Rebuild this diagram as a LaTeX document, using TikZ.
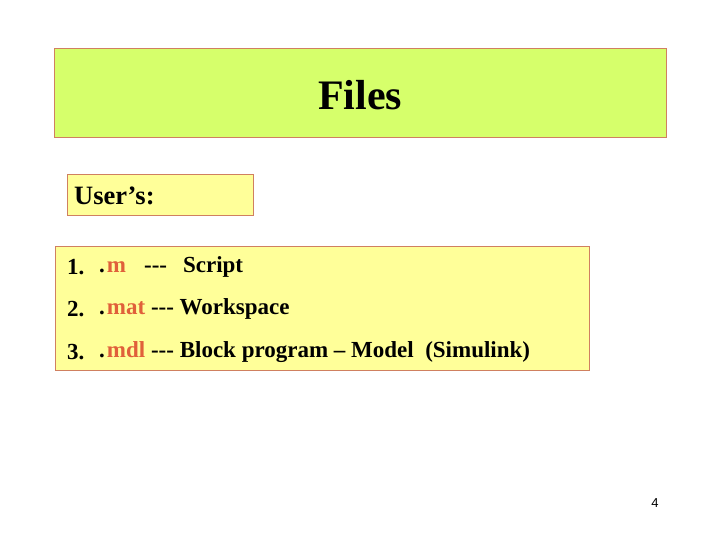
\documentclass[tikz,border=0pt]{standalone}
\usepackage{fontspec}
\setmainfont{Liberation Serif}
\newfontfamily\pgnum{Liberation Sans}
\definecolor{lime}{HTML}{D6FF6B}
\definecolor{paleyel}{HTML}{FFFF99}
\definecolor{edge}{HTML}{D08060}
\definecolor{ext}{HTML}{E0603A}
\begin{document}
\begin{tikzpicture}[x=1pt,y=-1pt,
  box/.style={draw=edge,line width=0.8pt},
  item/.style={anchor=west,inner sep=0pt,font=\bfseries\fontsize{23}{26}\selectfont}]
\useasboundingbox (0,0) rectangle (720,540);
\fill[white] (0,0) rectangle (720,540);
\draw[box,fill=lime] (54,48) rectangle (666,137);
\node[font=\bfseries\fontsize{42}{48}\selectfont] (title) at (360,95) {Files};
\draw[box,fill=paleyel] (67,174) rectangle (253,215);
\node[anchor=west,inner sep=0pt,font=\bfseries\fontsize{26.5}{30}\selectfont] (user) at (74,196) {User’s:};
\draw[box,fill=paleyel] (55,246) rectangle (589,370);
\node[item] (i1) at (67,267) {1.};
\node[item] (m1) at (99,267) {.\hspace{2pt}\textcolor{ext}{m}\hspace{18pt}-{}-{}-\hspace{16pt}Script};
\node[item] (i2) at (67,309) {2.};
\node[item] (m2) at (99,309) {.\hspace{2pt}\textcolor{ext}{mat} -{}-{}- Workspace};
\node[item] (i3) at (67,352) {3.};
\node[item] (m3) at (99,352) {.\hspace{2pt}\textcolor{ext}{mdl} -{}-{}- Block program -- Model\ \ (Simulink)};
\node[font=\pgnum\fontsize{13}{15}\selectfont] (pg) at (655,503) {4};
\end{tikzpicture}
\end{document}
